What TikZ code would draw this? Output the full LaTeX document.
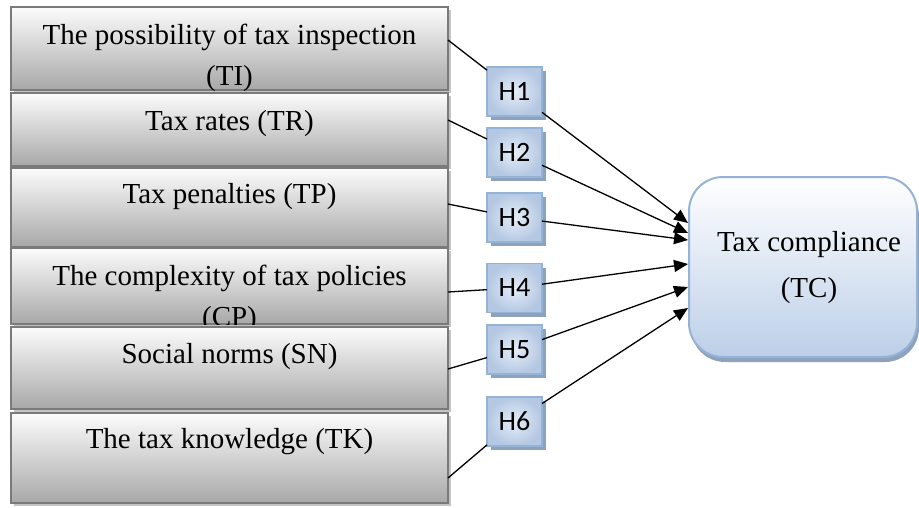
\documentclass[tikz,border=0pt]{standalone}
\usepackage{fontspec}
\setmainfont{Liberation Serif}
\newfontfamily\hfont{Carlito}
\usetikzlibrary{arrows.meta,shadows}
\definecolor{lborder}{HTML}{7A7A7A}
\definecolor{ltop}{HTML}{FCFCFC}
\definecolor{lbot}{HTML}{A8A8A8}
\definecolor{lshadow}{HTML}{C4C4C4}
\definecolor{hborder}{HTML}{95B3D7}
\definecolor{hin}{HTML}{E6EDF7}
\definecolor{hout}{HTML}{B4C8E3}
\definecolor{hshadow}{HTML}{8FA2BB}
\definecolor{tctop}{HTML}{FFFFFF}
\definecolor{tcbot}{HTML}{BCCFE8}
\begin{document}
\begin{tikzpicture}[x=1pt,y=1pt,
  lbox/.style={draw=lborder, line width=2pt, top color=ltop, bottom color=lbot,
    minimum width=437pt, inner sep=0pt, outer sep=0pt,
    drop shadow={shadow xshift=3pt, shadow yshift=-3pt, fill=lshadow, opacity=1}},
  ltext/.style={anchor=base, inner sep=0pt, font=\fontsize{29}{41}\selectfont},
  hbox/.style={draw=hborder, line width=1.5pt, inner color=hin, outer color=hout,
    minimum width=55pt, minimum height=49pt, inner sep=0pt, outer sep=0pt,
    font=\hfont\fontsize{28}{32}\selectfont,
    drop shadow={shadow xshift=4pt, shadow yshift=-4pt, fill=hshadow, opacity=1}},
  tcbox/.style={draw=hborder, line width=2pt, top color=tctop, bottom color=tcbot,
    rounded corners=34pt, minimum width=228pt, minimum height=180pt, inner sep=0pt, outer sep=0pt,
    drop shadow={shadow xshift=2pt, shadow yshift=-5pt, fill=hshadow, opacity=1}},
  conn/.style={draw=black, line width=1.3pt},
  arr/.style={conn, -{Triangle[length=14pt,width=12pt]}}
]
\useasboundingbox (0,0) rectangle (919,-507);

% left boxes
\node[lbox, minimum height=83pt] (b1) at (229.5,-48.5) {};
\node[lbox, minimum height=73pt] (b2) at (229.5,-129.5) {};
\node[lbox, minimum height=79pt] (b3) at (229.5,-207.5) {};
\node[lbox, minimum height=76pt] (b4) at (229.5,-286) {};
\node[lbox, minimum height=82pt] (b5) at (229.5,-368) {};
\node[lbox, minimum height=90pt] (b6) at (229.5,-458) {};

\node[ltext] (l1a) at (229.5,-44) {The possibility of tax inspection};
\node[ltext] (l1b) at (229.5,-85) {(TI)};
\node[ltext] (l2) at (229.5,-130) {Tax rates (TR)};
\node[ltext] (l3) at (229.5,-203) {Tax penalties (TP)};
\node[ltext] (l4a) at (229.5,-285) {The complexity of tax policies};
\begin{scope}
  \clip (b4.south west) rectangle (b4.north east);
  \node[ltext] (l4b) at (229.5,-326) {(CP)};
\end{scope}
\node[ltext] (l5) at (229.5,-363) {Social norms (SN)};
\node[ltext] (l6) at (229.5,-448) {The tax knowledge (TK)};

% hypothesis boxes
\node[hbox] (h1) at (514.5,-91.5) {H1};
\node[hbox] (h2) at (514.5,-152.5) {H2};
\node[hbox] (h3) at (514.5,-217.5) {H3};
\node[hbox] (h4) at (514.5,-288) {H4};
\node[hbox] (h5) at (514.5,-349.5) {H5};
\node[hbox] (h6) at (514.5,-421.5) {H6};

% outcome box
\node[tcbox] (tc) at (803,-267) {};
\node[ltext] (tca) at (809,-251) {Tax compliance};
\node[ltext] (tcb) at (809,-297) {(TC)};

% connector endpoints
\coordinate (p1) at (448,-40);
\coordinate (p2) at (448,-120);
\coordinate (p3) at (448,-204);
\coordinate (p4) at (448,-292);
\coordinate (p5) at (448,-369);
\coordinate (p6) at (448,-478);
\coordinate (t1) at (688,-223);
\coordinate (t2) at (688,-233);
\coordinate (t3) at (688,-240);
\coordinate (t4) at (688,-264);
\coordinate (t5) at (688,-287);
\coordinate (t6) at (688,-308);

\foreach \i in {1,...,6}{
  \draw[conn] (p\i) -- (h\i);
  \draw[arr] (h\i) -- (t\i);
}
\end{tikzpicture}
\end{document}
